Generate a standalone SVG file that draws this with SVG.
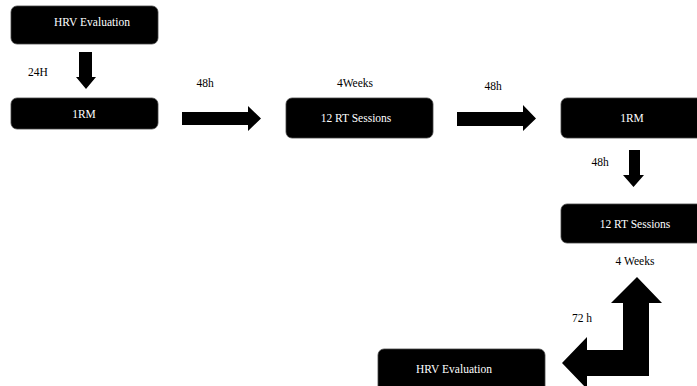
<svg xmlns="http://www.w3.org/2000/svg" width="697" height="386" viewBox="0 0 697 386">
<style>
.box{fill:#000;stroke:#444;stroke-width:0.8}
text{font-family:'Liberation Serif','DejaVu Serif','Times New Roman',serif;font-size:11.5px;text-anchor:middle}
.bt{fill:#fff}
.lb{fill:#000}
.arr{fill:#000}
</style>
<rect width="697" height="386" fill="#fff"/>
<g id="n1"><rect class="box" x="11" y="6" width="147" height="38" rx="6"/><text class="bt" x="92" y="26">HRV Evaluation</text></g>
<g id="n2"><rect class="box" x="11" y="98" width="147" height="31" rx="6"/><text class="bt" x="84" y="118">1RM</text></g>
<g id="n3"><rect class="box" x="286" y="98" width="147" height="40" rx="6"/><text class="bt" x="356" y="122">12 RT Sessions</text></g>
<g id="n4"><rect class="box" x="561" y="98" width="147" height="40" rx="6"/><text class="bt" x="632" y="122">1RM</text></g>
<g id="n5"><rect class="box" x="561" y="204" width="147" height="39" rx="6"/><text class="bt" x="635" y="228">12 RT Sessions</text></g>
<g id="n6"><rect class="box" x="378" y="349" width="167" height="45" rx="6"/><text class="bt" x="454" y="373">HRV Evaluation</text></g>
<g id="connectors">
<polygon class="arr" points="79,52 92,52 92,77 96,77 86,89 76,77 79,77"/>
<polygon class="arr" points="182,112 248,112 248,106 261,118.5 248,131 248,125 182,125"/>
<polygon class="arr" points="457,112 523,112 523,105 536,118.5 523,131 523,126 457,126"/>
<polygon class="arr" points="629,150 640,150 640,175 644,175 633.5,187 623,175 629,175"/>
<polygon class="arr" points="637,277 662,303 649,303 649,376 587,376 587,389 562,363 587,337 587,350 623,350 623,303 611,303"/>
</g>
<g id="labels">
<text class="lb" x="38" y="76">24H</text>
<text class="lb" x="205" y="87">48h</text>
<text class="lb" x="355" y="87">4Weeks</text>
<text class="lb" x="493" y="90">48h</text>
<text class="lb" x="600" y="166">48h</text>
<text class="lb" x="635" y="265">4 Weeks</text>
<text class="lb" x="582" y="322">72 h</text>
</g>
</svg>
